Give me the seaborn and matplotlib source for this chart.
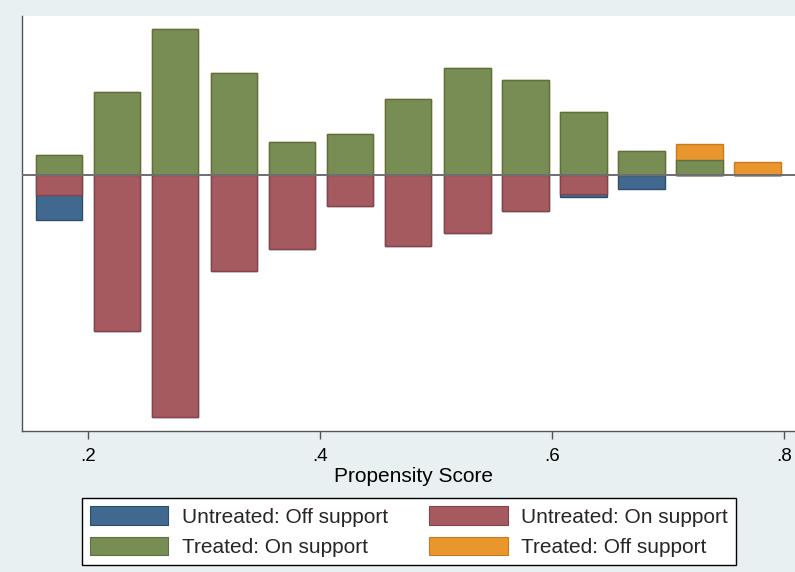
import matplotlib
matplotlib.use("Agg")
import matplotlib.pyplot as plt
from matplotlib.patches import Patch
import numpy as np
import pandas as pd
import seaborn as sns

# Propensity score bin centres
bin_centers = [0.175, 0.225, 0.275, 0.326, 0.376, 0.426, 0.476,
               0.527, 0.577, 0.627, 0.677, 0.727, 0.777]

# Bar heights per bin (treated plotted upward, untreated downward)
treated_on = [2.0, 8.3, 14.6, 10.2, 3.3, 4.1, 7.6, 10.7, 9.5, 6.3, 2.4, 1.5, 0.0]
treated_off = [0.0, 0.0, 0.0, 0.0, 0.0, 0.0, 0.0, 0.0, 0.0, 0.0, 0.0, 1.6, 1.3]
untreated_on = [2.0, 15.6, 24.2, 9.6, 7.4, 3.1, 7.1, 5.8, 3.6, 1.9, 0.0, 0.0, 0.0]
untreated_off = [2.5, 0.0, 0.0, 0.0, 0.0, 0.0, 0.0, 0.0, 0.0, 0.3, 1.4, 0.0, 0.0]

x_ticks = [0.2, 0.4, 0.6, 0.8]
x_tick_labels = [".2", ".4", ".6", ".8"]

df = pd.DataFrame({
    "pscore": bin_centers,
    "t_on": treated_on,
    "t_total": np.add(treated_on, treated_off),
    "u_on": -np.asarray(untreated_on),
    "u_total": -np.add(untreated_on, untreated_off),
})

BG = "#e8f0f1"
C_UOFF, E_UOFF = "#41698f", "#2d4d6c"
C_UON, E_UON = "#a45a5e", "#86434a"
C_TON, E_TON = "#778d53", "#5c7040"
C_TOFF, E_TOFF = "#e9962f", "#c97a1c"

sns.set_theme(style="white")
plt.rcParams["font.family"] = ["Liberation Sans", "DejaVu Sans"]

fig = plt.figure(figsize=(7.95, 5.72), dpi=100, facecolor=BG)
ax = fig.add_axes([22 / 795, 141 / 572, 773 / 795, 415 / 572])
ax.set_facecolor("white")

bar_kw = dict(x="pscore", native_scale=True, errorbar=None, saturation=1,
              linewidth=1.0, ax=ax)
# stacked layers: draw the cumulative total first, then the inner part on top
sns.barplot(data=df, y="t_total", color=C_TOFF, edgecolor=E_TOFF, **bar_kw)
sns.barplot(data=df, y="t_on", color=C_TON, edgecolor=E_TON, **bar_kw)
sns.barplot(data=df, y="u_total", color=C_UOFF, edgecolor=E_UOFF, **bar_kw)
sns.barplot(data=df, y="u_on", color=C_UON, edgecolor=E_UON, **bar_kw)

ax.axhline(0, color="#6f6f6f", lw=1.4, zorder=5)

ax.set_xlim(0.1431, 0.8095)
ax.set_ylim(-25.6, 15.9)
ax.set_xticks(x_ticks)
ax.set_xticklabels(x_tick_labels, fontsize=13.5, color="black")
ax.set_yticks([])
ax.set_ylabel("")
ax.tick_params(axis="x", bottom=True, direction="out", length=6, width=1,
               color="#555555", pad=6)
ax.set_xlabel("Propensity Score", fontsize=15, color="black")
ax.xaxis.set_label_coords((413 - 22) / 773, -36 / 415)

for side in ("top", "right"):
    ax.spines[side].set_visible(False)
for side in ("left", "bottom"):
    ax.spines[side].set_visible(True)
    ax.spines[side].set_color("#555555")
    ax.spines[side].set_linewidth(1.0)

handles = [
    Patch(facecolor=C_UOFF, edgecolor=E_UOFF, lw=0.8),
    Patch(facecolor=C_TON, edgecolor=E_TON, lw=0.8),
    Patch(facecolor=C_UON, edgecolor=E_UON, lw=0.8),
    Patch(facecolor=C_TOFF, edgecolor=E_TOFF, lw=0.8),
]
labels = ["Untreated: Off support", "Treated: On support",
          "Untreated: On support", "Treated: Off support"]
leg = fig.legend(handles, labels, ncol=2, loc="upper left",
                 bbox_to_anchor=(82 / 795, 1 - 498 / 572),
                 fontsize=15, frameon=True, fancybox=False, shadow=False,
                 framealpha=1, facecolor="white", edgecolor="black",
                 handlelength=3.75, handleheight=1.0, handletextpad=0.63,
                 columnspacing=2.0, borderpad=0.4, labelspacing=0.47,
                 borderaxespad=0)
leg.get_frame().set_linewidth(1.0)

fig.savefig("out.png", dpi=100, facecolor=BG)
